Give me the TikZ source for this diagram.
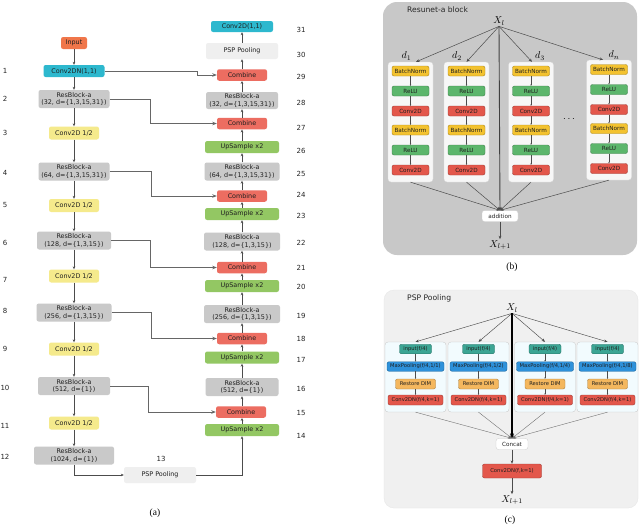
\documentclass[tikz,border=0pt]{standalone}
\usepackage{fontspec}
\setmainfont{DejaVu Sans}
\newfontfamily\capfont{Liberation Serif}
\usetikzlibrary{arrows.meta,calc}
\definecolor{cIn}{HTML}{F0764A}
\definecolor{cCy}{HTML}{2DB8CE}
\definecolor{cGr}{HTML}{C9C9C9}
\definecolor{cYe}{HTML}{F5EA8C}
\definecolor{cRe}{HTML}{EC6D61}
\definecolor{cGn}{HTML}{93C763}
\definecolor{cPs}{HTML}{EFEFEF}
\definecolor{cPb}{HTML}{C8C8C8}
\definecolor{cBn}{HTML}{F3C22F}
\definecolor{cRl}{HTML}{5CB66C}
\definecolor{cCv}{HTML}{E3574B}
\definecolor{cPc}{HTML}{F0F0F0}
\definecolor{cTe}{HTML}{3BA594}
\definecolor{cBl}{HTML}{2E91DA}
\definecolor{cOr}{HTML}{F4B75E}
\newcommand\fA{\fontsize{6.4}{7.8}\selectfont}
\newcommand\fN{\fontsize{7}{8}\selectfont}
\newcommand\fB{\fontsize{5.7}{6.5}\selectfont}
\newcommand\fC{\fontsize{5.2}{6}\selectfont}
\newcommand\fT{\fontsize{7.6}{9}\selectfont}
\newcommand\fM{\fontsize{10}{12}\selectfont}
\tikzset{
 ab/.style={rounded corners=2.2pt, inner sep=0pt, minimum height=12pt, font=\fA, text=black!88, align=center},
 inp/.style={ab, fill=cIn, minimum width=26pt},
 cyn/.style={ab, fill=cCy, minimum width=61pt},
 rba/.style={ab, fill=cGr, minimum height=18pt},
 hlf/.style={ab, fill=cYe, minimum width=50pt, minimum height=13pt},
 cmb/.style={ab, fill=cRe, minimum width=50pt, minimum height=11.5pt},
 ups/.style={ab, fill=cGn, minimum width=74pt},
 psp/.style={ab, fill=cPs, minimum width=72pt, minimum height=16pt},
 num/.style={font=\fN, text=black!85, inner sep=0pt},
 arr/.style={draw=black!70, line width=0.5pt, -{Stealth[length=3pt,width=2.6pt]}},
 skp/.style={draw=black!60, line width=0.8pt, -{Stealth[length=4.5pt,width=3.5pt]}},
 colb/.style={rounded corners=3pt, fill=white!97!black, draw=black!15, line width=0.3pt, minimum width=45pt, minimum height=120pt, inner sep=0pt},
 bb/.style={rounded corners=2pt, inner sep=0pt, minimum width=37pt, minimum height=10pt, font=\fB, text=black!88, line width=0.4pt},
 bn/.style={bb, fill=cBn, draw=cBn!70!black},
 rl/.style={bb, fill=cRl, draw=cRl!70!black},
 cv/.style={bb, fill=cCv, draw=cCv!70!black},
 tny/.style={draw=black!70, line width=0.3pt, -{Stealth[length=1.5pt,width=1.4pt]}},
 arrb/.style={draw=black!70, line width=0.5pt, -{Stealth[length=3.5pt,width=2.8pt]}},
 whb/.style={rounded corners=2.5pt, fill=white, draw=black!20, line width=0.3pt, inner sep=0pt, font=\fB, text=black!85},
 colc/.style={rounded corners=3pt, fill=white!95!cyan, draw=black!22, line width=0.3pt, minimum width=61pt, minimum height=70pt, inner sep=0pt},
 cb/.style={rounded corners=2pt, inner sep=0pt, minimum height=9.5pt, font=\fC, text=black!88, line width=0.4pt},
 tl/.style={cb, fill=cTe, draw=cTe!70!black, minimum width=32pt},
 mp/.style={cb, fill=cBl, draw=cBl!70!black, minimum width=57pt},
 rd/.style={cb, fill=cOr, draw=cOr!70!black, minimum width=40pt, minimum height=10pt},
 cn/.style={cb, fill=cCv, draw=cCv!70!black, minimum width=55pt, minimum height=10pt},
 capt/.style={font=\capfont\fontsize{9.5}{11}\selectfont, inner sep=0pt},
}
\begin{document}
\begin{tikzpicture}[x=1pt,y=-1pt]
\useasboundingbox (0,0) rectangle (640,525);
\fill[white] (0,0) rectangle (640,525);
% ---------------- panel (a): encoder
\node[inp] (in) at (74,43) {Input};
\node[cyn] (c1) at (74,71) {Conv2DN(1,1)};
\node[rba, minimum width=71pt] (r2) at (74,99) {ResBlock-a\\(32, d=\{1,3,15,31\})};
\node[hlf] (h3) at (74,133) {Conv2D 1/2};
\node[rba, minimum width=71pt] (r4) at (74,171.5) {ResBlock-a\\(64, d=\{1,3,15,31\})};
\node[hlf] (h5) at (74,205.5) {Conv2D 1/2};
\node[rba, minimum width=74pt] (r6) at (74,240.5) {ResBlock-a\\(128, d=\{1,3,15\})};
\node[hlf] (h7) at (74,276) {Conv2D 1/2};
\node[rba, minimum width=75pt] (r8) at (74,312.5) {ResBlock-a\\(256, d=\{1,3,15\})};
\node[hlf] (h9) at (74,349) {Conv2D 1/2};
\node[rba, minimum width=72pt] (r10) at (74,386) {ResBlock-a\\(512, d=\{1\})};
\node[hlf] (h11) at (74,423) {Conv2D 1/2};
\node[rba, minimum width=80pt] (r12) at (74,455.5) {ResBlock-a\\(1024, d=\{1\})};
\node[psp] (p13) at (160,475) {PSP Pooling};
% decoder
\node[ups] (u14) at (242,430) {UpSample x2};
\node[cmb] (cb15) at (241,412) {Combine};
\node[rba, minimum width=73pt] (r16) at (242,387) {ResBlock-a\\(512, d=\{1\})};
\node[ups] (u17) at (242,357.5) {UpSample x2};
\node[cmb] (cb18) at (242,338.5) {Combine};
\node[rba, minimum width=76pt] (r19) at (242,314) {ResBlock-a\\(256, d=\{1,3,15\})};
\node[ups] (u20) at (242,286) {UpSample x2};
\node[cmb] (cb21) at (242,267.5) {Combine};
\node[rba, minimum width=76pt] (r22) at (242,241.5) {ResBlock-a\\(128, d=\{1,3,15\})};
\node[ups] (u23) at (242,214) {UpSample x2};
\node[cmb] (cb24) at (242,196) {Combine};
\node[rba, minimum width=75pt] (r25) at (242,171.5) {ResBlock-a\\(64, d=\{1,3,15,31\})};
\node[ups] (u26) at (242,147) {UpSample x2};
\node[cmb] (cb27) at (242,123.5) {Combine};
\node[rba, minimum width=72pt, minimum height=17pt] (r28) at (242,100.5) {ResBlock-a\\(32, d=\{1,3,15,31\})};
\node[cmb] (cb29) at (242,75) {Combine};
\node[psp] (p30) at (242,51) {PSP Pooling};
\node[cyn, minimum width=62pt, minimum height=11pt] (c31) at (242,26.5) {Conv2D(1,1)};
% vertical arrows
\foreach \a/\b in {in/c1,c1/r2,r2/h3,h3/r4,r4/h5,h5/r6,r6/h7,h7/r8,r8/h9,h9/r10,r10/h11,h11/r12}
  \draw[arr] (\a.south) -- (\b.north);
\foreach \a/\b in {u14/cb15,cb15/r16,r16/u17,u17/cb18,cb18/r19,r19/u20,u20/cb21,cb21/r22,r22/u23,u23/cb24,cb24/r25,r25/u26,u26/cb27,cb27/r28,r28/cb29,cb29/p30,p30/c31}
  \draw[arr] (\a.north -| 242,0) -- (\b.south -| 242,0);
\draw[arr] (r12.south) |- (p13.west);
\draw[arr] (p13.east) -| (u14.south -| 242,0);
% skip connections
\draw[skp] (c1.east) -- ++(93,0) |- (cb29.west);
\draw[skp] (r2.east) -- ++(40.5,0) |- (cb27.west);
\draw[skp] (r4.east) -- ++(42,0) |- (cb24.west);
\draw[skp] (r6.east) -- ++(39,0) |- (cb21.west);
\draw[skp] (r8.east) -- ++(40,0) |- (cb18.west);
\draw[skp] (r10.east) -- ++(38,0) |- (cb15.west);
% numbers
\foreach \t/\y in {1/71,2/98.5,3/133,4/172.5,5/205,6/243,7/279.5,8/311,9/348.5,10/388,11/425.5,12/457}
  \node[num] (nl\t) at (5,\y) {\t};
\foreach \t/\y in {31/30,30/55,29/77,28/103,27/128,26/151,25/174,24/195,23/216,22/243,21/268,20/287,19/316,18/339,17/360,16/389,15/413,14/436}
  \node[num] (nr\t) at (301,\y) {\t};
\node[num] (nl13) at (161,459) {13};
\node[capt] (capa) at (155,513) {(a)};
% ---------------- panel (b)
\draw[rounded corners=14pt, fill=cPb, draw=none] (383,2) rectangle (637,255);
\node[anchor=west, font=\fT, text=black!85, inner sep=0pt] (tb) at (407,9.5) {Resunet-a block};
\node[font=\fM, inner sep=1pt] (xb) at (499,21) {$X_l$};
\foreach \n/\cx/\cy in {1/410.5/122,2/466.5/122,3/531/122,4/609/120}
  \node[colb] (kb\n) at (\cx,\cy) {};
\foreach \n/\cx/\dy in {1/410.5/0,2/466.5/0,3/531/0,4/609/-1.5} {
  \node[bn] (b\n-1) at (\cx,{71+(\dy)}) {BatchNorm};
  \node[rl] (b\n-2) at (\cx,{91+(\dy)}) {ReLU};
  \node[cv] (b\n-3) at (\cx,{111+(\dy)}) {Conv2D};
  \node[bn] (b\n-4) at (\cx,{130+(\dy)}) {BatchNorm};
  \node[rl] (b\n-5) at (\cx,{150+(\dy)}) {ReLU};
  \node[cv] (b\n-6) at (\cx,{170+(\dy)}) {Conv2D};
  \foreach \k/\j in {1/2,2/3,3/4,4/5,5/6}
    \draw[tny] (b\n-\k) -- (b\n-\j);
}
\draw[arrb] (xb.south) -- ($(kb1.north)+(5.5,0)$);
\draw[arrb] (xb.south) -- ($(kb2.north)+(0,0)$);
\draw[arrb] (xb.south) -- ($(kb3.north)+(1,0)$);
\draw[arrb] (xb.south) -- ($(kb4.north)+(-6,0)$);
\node[font=\fM, inner sep=0pt] (d1) at (406.5,56) {$d_1$};
\node[font=\fM, inner sep=0pt] (d2) at (457,56) {$d_2$};
\node[font=\fM, inner sep=0pt] (d3) at (540,56) {$d_3$};
\node[font=\fM, inner sep=0pt] (dn) at (614,55) {$d_n$};
\node[font=\fontsize{10}{10}\selectfont, inner sep=0pt] (dots) at (569,119) {$\cdots$};
\node[whb, minimum width=36pt, minimum height=11pt] (add) at (500,216) {addition};
\foreach \n in {1,...,4}
  \draw[arrb] (kb\n.south) -- (add.north);
\draw[arrb, line width=0.9pt, draw=black!75] (xb.south) -- (add.north);
\node[font=\fM, inner sep=1pt] (xb1) at (500,245) {$X_{l+1}$};
\draw[arrb] (add.south) -- (xb1.north);
\node[capt] (capb) at (512,267) {(b)};
% ---------------- panel (c)
\draw[rounded corners=10pt, fill=cPc, draw=black!10, line width=0.3pt] (384,290) rectangle (638,508);
\node[anchor=west, font=\fT, text=black!85, inner sep=0pt] (tc) at (407,298) {PSP Pooling};
\node[font=\fM, inner sep=1pt] (xc) at (512,308) {$X_l$};
\foreach \n/\cx/\r in {1/415.5/1,2/478.5/2,3/545/4,4/607.5/8} {
  \node[colc] (kc\n) at (\cx,377) {};
  \node[tl] (e\n-1) at (\cx,349) {input(f/4)};
  \node[mp] (e\n-2) at (\cx,366.5) {MaxPooling(f/4,1/\r)};
  \node[rd] (e\n-3) at (\cx,384) {Restore DIM};
  \node[cn] (e\n-4) at (\cx,400) {Conv2DN(f/4,k=1)};
  \foreach \k/\j in {1/2,2/3,3/4}
    \draw[tny] (e\n-\k) -- (e\n-\j);
  \draw[arrb, line width=0.45pt] (xc.south) -- (kc\n.north);
}
\node[whb, minimum width=32pt, minimum height=11pt] (cat) at (512,444) {Concat};
\foreach \n in {1,...,4}
  \draw[draw=black!55, line width=0.4pt, -{Stealth[length=4pt,width=3pt]}] (kc\n.south) -- (cat.north);
\draw[line width=1.3pt, draw=black, -{Stealth[length=5pt,width=4pt]}] (xc.south) -- (cat.north);
\node[cn, minimum width=59pt, minimum height=14pt, font=\fontsize{5.3}{6}\selectfont] (cvf) at (512,471) {Conv2DN(f,k=1)};
\draw[arrb] (cat.south) -- (cvf.north);
\node[font=\fM, inner sep=1pt] (xc1) at (512,500) {$X_{l+1}$};
\draw[arrb] (cvf.south) -- (xc1.north);
\node[capt] (capc) at (510,520) {(c)};
\end{tikzpicture}
\end{document}
